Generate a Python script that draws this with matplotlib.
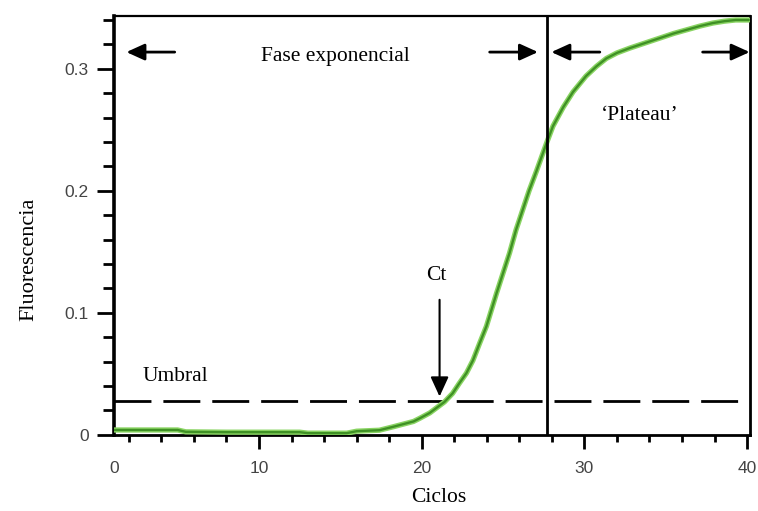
import matplotlib
matplotlib.use("Agg")
import matplotlib.pyplot as plt
from matplotlib.ticker import MultipleLocator, FixedLocator

# ---- data ----
cycles = [1.1, 3, 5, 5.5, 8, 12.5, 13, 15.4, 16, 17.4, 18.3, 19.5, 19.9, 20.5,
          21.4, 21.9, 22.3, 22.75, 23.15, 23.56, 23.98, 24.6, 25.0, 25.4, 25.8,
          26.2, 26.6, 27.05, 27.7, 28.07, 28.7, 29.3, 30.1, 30.74, 31.35, 32.0,
          32.8, 33.7, 34.6, 35.5, 36.3, 37.1, 37.9, 38.6, 39.3, 40.1]
fluor = [0.004, 0.004, 0.004, 0.0025, 0.0022, 0.0022, 0.0014, 0.0014, 0.003,
         0.0038, 0.0068, 0.011, 0.0137, 0.018, 0.027, 0.034, 0.042, 0.0506, 0.061,
         0.075, 0.089, 0.116, 0.1325, 0.149, 0.168, 0.184, 0.200, 0.216, 0.240,
         0.253, 0.2685, 0.281, 0.294, 0.302, 0.3085, 0.313, 0.317, 0.321, 0.325,
         0.329, 0.332, 0.335, 0.3375, 0.339, 0.340, 0.340]
threshold = 0.0275
ct_cycle = 21.1
plateau_start = 27.7
x_major = [10, 20, 30, 40]
x_major_labels = ['10', '20', '30', '40']
y_major = [0, 0.1, 0.2, 0.3]
y_major_labels = ['0', '0.1', '0.2', '0.3']

serif = ['Liberation Serif', 'DejaVu Serif']
sans = ['Liberation Sans', 'DejaVu Sans']
tfs = 15.5
lfs = 12.5

fig = plt.figure(figsize=(7.58, 5.11), dpi=100)
ax = fig.add_axes([0.150, 0.149, 0.839, 0.820])

ax.set_xlim(1.07, 40.16)
ax.set_ylim(0, 0.3434)

# curve
ax.plot(cycles, fluor, color='#8ad463', lw=3.8, solid_capstyle='round',
        solid_joinstyle='round', zorder=3)
ax.plot(cycles, fluor, color='#3f9125', lw=1.7, solid_capstyle='round',
        solid_joinstyle='round', zorder=4)

# threshold
ax.axhline(threshold, color='black', lw=2, dashes=(13.3, 4.3), zorder=2)
# plateau separation
ax.axvline(plateau_start, color='black', lw=2, zorder=5)

# arrows
ap = dict(arrowstyle='-|>,head_length=1.1,head_width=0.5', mutation_scale=10,
          color='black', lw=2, shrinkA=0, shrinkB=0)
ya = 0.3137
ax.annotate('', xy=(1.85, ya), xytext=(4.82, ya), arrowprops=ap)
ax.annotate('', xy=(27.15, ya), xytext=(24.18, ya), arrowprops=ap)
ax.annotate('', xy=(27.97, ya), xytext=(30.95, ya), arrowprops=ap)
ax.annotate('', xy=(40.16, ya), xytext=(37.27, ya), arrowprops=ap)
ax.annotate('', xy=(ct_cycle, 0.0314), xytext=(ct_cycle, 0.1107),
            arrowprops=dict(arrowstyle='-|>,head_length=1.2,head_width=0.55',
                            mutation_scale=10, color='black', lw=1.5,
                            shrinkA=0, shrinkB=0))

# texts
ax.text(14.7, 0.310, 'Fase exponencial', ha='center', va='center', family=serif, fontsize=tfs)
ax.text(33.4, 0.262, '\u2018Plateau\u2019', ha='center', va='center', family=serif, fontsize=tfs)
ax.text(20.9, 0.131, 'Ct', ha='center', va='center', family=serif, fontsize=tfs)
ax.text(2.85, 0.048, 'Umbral', ha='left', va='center', family=serif, fontsize=tfs)

# axes labels
ax.set_xlabel('Ciclos', family=serif, fontsize=tfs)
ax.xaxis.set_label_coords(0.511, -0.127)
ax.set_ylabel('Fluorescencia', family=serif, fontsize=16)
ax.yaxis.set_label_coords(-0.118, 0.42)

# ticks
ax.xaxis.set_major_locator(FixedLocator(x_major))
ax.set_xticklabels(x_major_labels)
ax.xaxis.set_minor_locator(MultipleLocator(2))
ax.yaxis.set_major_locator(FixedLocator(y_major))
ax.set_yticklabels(y_major_labels)
ax.yaxis.set_minor_locator(MultipleLocator(0.02))

ax.tick_params(axis='x', which='major', direction='out', length=10, width=2, pad=9,
               labelsize=lfs, labelcolor='#444444')
ax.tick_params(axis='x', which='minor', direction='out', length=5, width=2)
ax.tick_params(axis='y', which='major', direction='out', length=12, width=2, pad=6,
               labelsize=lfs, labelcolor='#444444')
ax.tick_params(axis='y', which='minor', direction='out', length=8, width=2)
for lab in ax.get_xticklabels() + ax.get_yticklabels():
    lab.set_family(sans)

# "0" label at the left end of the x axis
ax.annotate('0', xy=(0, 0), xycoords='axes fraction', xytext=(0, -19),
            textcoords='offset points', ha='center', va='top',
            family=sans, fontsize=lfs, color='#444444')

for side, w in [('left', 2.6), ('bottom', 2), ('top', 1.6), ('right', 2)]:
    ax.spines[side].set_linewidth(w)
    ax.spines[side].set_color('black')

fig.savefig('out.png', dpi=100)
